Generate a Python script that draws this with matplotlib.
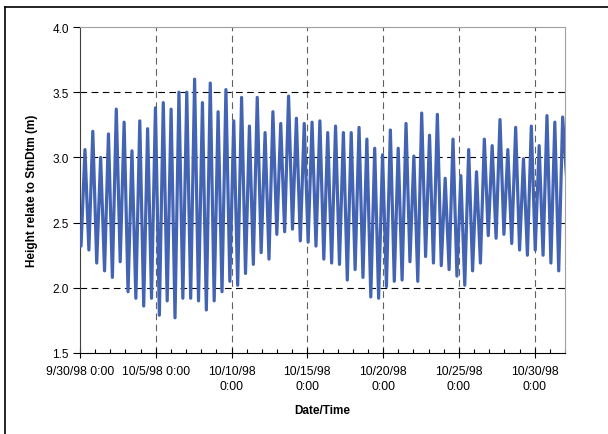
import numpy as np
import pandas as pd
import matplotlib
matplotlib.use("Agg")
import matplotlib.pyplot as plt
import matplotlib.dates as mdates
from matplotlib.lines import Line2D

plt.rcParams['font.family'] = ['Liberation Sans', 'DejaVu Sans']

# tide readings: alternating low / high water (m)
lows = [2.32, 2.29, 2.19, 2.13, 2.08, 2.20, 1.97, 1.92, 1.86, 1.92,
        1.79, 1.90, 1.77, 1.92, 1.92, 1.90, 1.83, 1.90, 1.97, 2.05,
        2.02, 2.11, 2.18, 2.27, 2.22, 2.41, 2.43, 2.45, 2.36, 2.35,
        2.32, 2.22, 2.19, 2.18, 2.06, 2.14, 2.08, 1.93, 1.92, 2.01,
        2.05, 2.06, 2.20, 2.05, 2.24, 2.19, 2.17, 2.14, 2.09, 2.02,
        2.13, 2.19, 2.40, 2.38, 2.41, 2.34, 2.29, 2.25, 2.29, 2.25,
        2.19, 2.13]
highs = [3.06, 3.20, 3.00, 3.18, 3.37, 3.27, 3.05, 3.28, 3.22, 3.38,
         3.42, 3.37, 3.50, 3.50, 3.60, 3.42, 3.57, 3.35, 3.52, 3.28,
         3.46, 3.24, 3.46, 3.19, 3.35, 3.26, 3.47, 3.30, 3.26, 3.27,
         3.28, 3.19, 3.24, 3.19, 3.19, 3.23, 3.14, 3.07, 3.02, 3.21,
         3.07, 3.26, 3.01, 3.34, 3.17, 3.33, 2.84, 3.14, 2.86, 3.06,
         2.89, 3.14, 3.09, 3.29, 3.06, 3.23, 2.99, 3.24, 3.09, 3.32,
         3.27, 3.31]
last_value = 2.85

heights = []
for lo, hi in zip(lows, highs):
    heights += [lo, hi]
heights.append(last_value)

# one reading per half tidal cycle (~6.2 h)
times = pd.date_range("1998-09-30 01:40", periods=len(heights), freq="372min")

tick_dates = pd.to_datetime(["1998-09-30", "1998-10-05", "1998-10-10", "1998-10-15",
                             "1998-10-20", "1998-10-25", "1998-10-30"])
tick_labels = ["9/30/98 0:00", "10/5/98 0:00", "10/10/98\n0:00", "10/15/98\n0:00",
               "10/20/98\n0:00", "10/25/98\n0:00", "10/30/98\n0:00"]
y_ticks = [1.5, 2.0, 2.5, 3.0, 3.5, 4.0]

fig = plt.figure(figsize=(6.08, 4.35), dpi=100)
ax = fig.add_axes([80/608, 1 - 354/435, 485/608, 326/435])

ax.plot(times, heights, color='#4363B3', lw=2.3, solid_joinstyle='round',
        solid_capstyle='round', zorder=3)

ax.set_xlim(pd.Timestamp("1998-09-30"), pd.Timestamp("1998-11-01"))
ax.set_ylim(1.5, 4.0)
ax.set_yticks(y_ticks)
ax.set_yticklabels([f"{v:.1f}" for v in y_ticks], fontsize=8.5)
ax.set_xticks(tick_dates)
ax.set_xticklabels(tick_labels, fontsize=8.7, linespacing=1.35)
ax.xaxis.set_minor_locator(mdates.DayLocator())

ax.tick_params(axis='y', direction='out', length=5, width=0.8, pad=3)
ax.tick_params(axis='x', which='major', direction='inout', length=7, width=0.8, pad=5)
ax.tick_params(axis='x', which='minor', direction='in', length=3, width=0.8)

for d in tick_dates[1:]:
    ax.axvline(d, color='#606060', lw=0.8, ls=(0, (6, 4)), zorder=1)
for v in y_ticks[1:-1]:
    ax.axhline(v, color='black', lw=0.8, ls=(0, (6, 4)), zorder=1)

for s in ['top', 'right']:
    ax.spines[s].set_color('#a0a0a0')
ax.spines['left'].set_color('#404040')
ax.spines['bottom'].set_color('black')

ax.set_ylabel("Height relate to StnDtm (m)", fontsize=8.5, fontweight='bold', labelpad=10)
ax.set_xlabel("Date/Time", fontsize=8.5, fontweight='bold', labelpad=9)

# chart area border (left and top edges visible)
fig.add_artist(Line2D([5/608, 5/608], [0, 1 - 8/435], color='black', lw=1.2, transform=fig.transFigure))
fig.add_artist(Line2D([5/608, 1], [1 - 8/435, 1 - 8/435], color='black', lw=1.2, transform=fig.transFigure))

fig.savefig("out.png", dpi=100)
